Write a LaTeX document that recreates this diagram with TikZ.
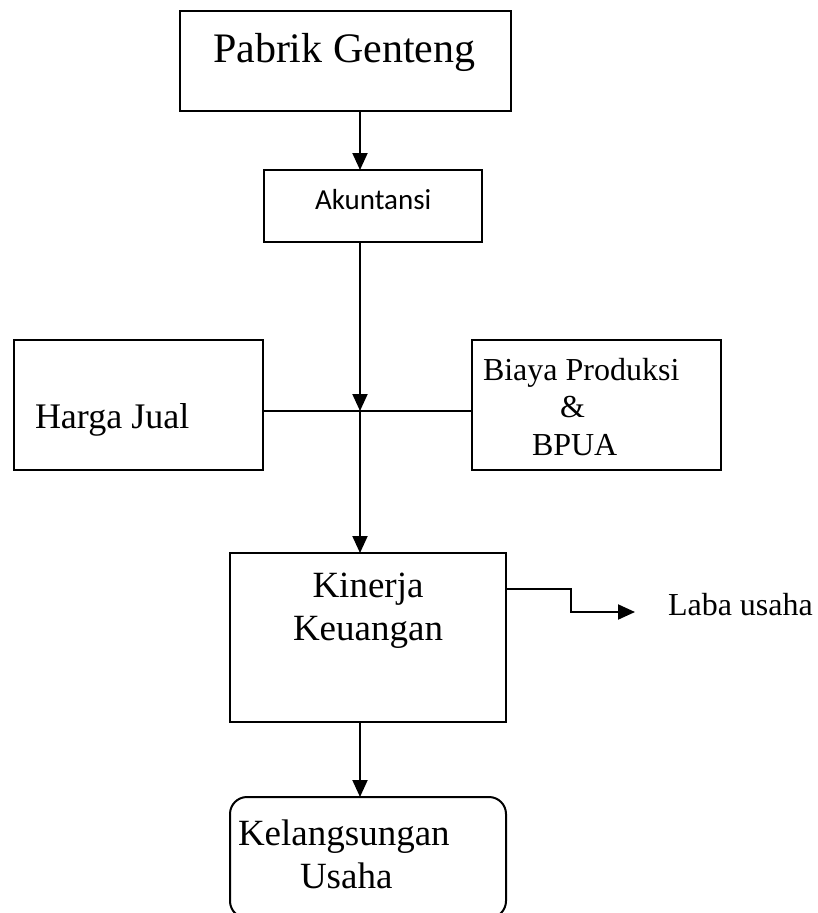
\documentclass[tikz,border=0pt]{standalone}
\usepackage{fontspec}
\setmainfont{Liberation Serif}
\newfontfamily\calibri{Carlito}
\usetikzlibrary{arrows.meta}
\begin{document}
\begin{tikzpicture}[x=1pt,y=-1pt,
  box/.style={draw,line width=2pt,rectangle,inner sep=0pt,outer sep=0pt,anchor=north west},
  lbl/.style={anchor=base west,inner sep=0pt,outer sep=0pt},
  clbl/.style={anchor=base,inner sep=0pt,outer sep=0pt},
  conn/.style={line width=2pt},
  arr/.style={line width=2pt,-{Triangle[width=15pt,length=17pt]}}]
\useasboundingbox (0,0) rectangle (817,913);
\fill[white] (0,0) rectangle (817,913);
% boxes
\node[box,minimum width=331pt,minimum height=100pt] (pabrik) at (180,11) {};
\node[box,minimum width=218pt,minimum height=72pt] (akun) at (264,170) {};
\node[box,minimum width=249pt,minimum height=130pt] (harga) at (14,340) {};
\node[box,minimum width=249pt,minimum height=130pt] (biaya) at (472,340) {};
\node[box,minimum width=276pt,minimum height=169pt] (kinerja) at (230,553) {};
\node[box,rounded corners=17pt,minimum width=276pt,minimum height=121pt] (kelang) at (230,797) {};
% texts
\node[lbl,font=\fontsize{42}{48}\selectfont] (tpabrik) at (213,62) {Pabrik Genteng};
\node[lbl,font=\calibri\fontsize{29}{33}\selectfont] (takun) at (315,209) {Akuntansi};
\node[lbl,font=\fontsize{36}{42}\selectfont] (tharga) at (35,428) {Harga Jual};
\node[lbl,font=\fontsize{32}{38}\selectfont] (tbiaya1) at (483,380) {Biaya Produksi};
\node[lbl,font=\fontsize{32}{38}\selectfont] (tbiaya2) at (560,417) {\&};
\node[lbl,font=\fontsize{32}{38}\selectfont] (tbiaya3) at (532,455) {BPUA};
\node[clbl,font=\fontsize{37}{44}\selectfont] (tkin1) at (368,597) {Kinerja};
\node[clbl,font=\fontsize{37}{44}\selectfont] (tkin2) at (368,640) {Keuangan};
\node[lbl,font=\fontsize{37}{44}\selectfont] (tkel1) at (238,845) {Kelangsungan};
\node[lbl,font=\fontsize{37}{44}\selectfont] (tkel2) at (300,888) {Usaha};
\node[lbl,font=\fontsize{32}{38}\selectfont] (tlaba) at (668,615) {Laba usaha};
% connectors
\coordinate (jx) at (360,411);
\coordinate (lb1) at (571,589);
\coordinate (lb2) at (571,612);
\coordinate (laba) at (635,612);
\draw[arr] (jx |- pabrik.south) -- (jx |- akun.north);
\draw[arr] (jx |- akun.south) -- (jx);
\draw[conn] (harga.east |- jx) -- (biaya.west |- jx);
\draw[arr] (jx) -- (jx |- kinerja.north);
\draw[arr] (jx |- kinerja.south) -- (jx |- kelang.north);
\draw[arr] (kinerja.east |- lb1) -- (lb1) -- (lb2) -- (laba);
\end{tikzpicture}
\end{document}
